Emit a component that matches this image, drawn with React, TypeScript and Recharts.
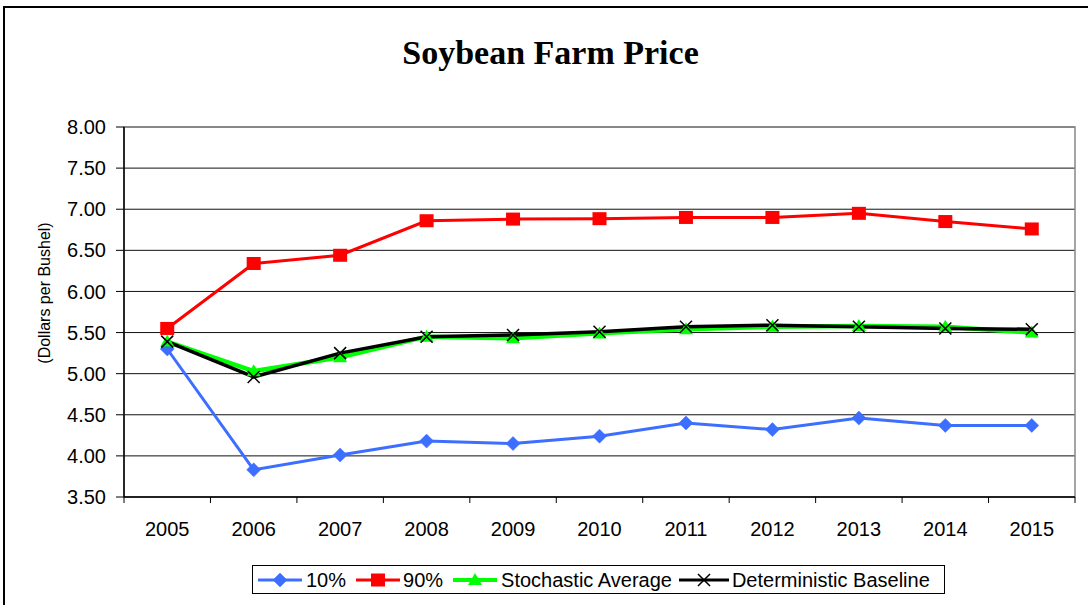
import React from "react";
import {
  LineChart,
  Line,
  XAxis,
  YAxis,
  CartesianGrid,
  ReferenceArea,
  Legend,
} from "recharts";

const years = [2005, 2006, 2007, 2008, 2009, 2010, 2011, 2012, 2013, 2014, 2015];
const p10 = [5.3, 3.83, 4.01, 4.18, 4.15, 4.24, 4.4, 4.32, 4.46, 4.37, 4.37];
const p90 = [5.55, 6.34, 6.44, 6.86, 6.88, 6.885, 6.9, 6.9, 6.95, 6.85, 6.76];
const stochastic = [5.39, 5.03, 5.2, 5.45, 5.43, 5.49, 5.54, 5.57, 5.58, 5.57, 5.5];
const deterministic = [5.39, 4.96, 5.25, 5.45, 5.47, 5.51, 5.57, 5.59, 5.57, 5.55, 5.54];
const yTicks = [3.5, 4.0, 4.5, 5.0, 5.5, 6.0, 6.5, 7.0, 7.5, 8.0];
const seriesNames = ["10%", "90%", "Stochastic Average", "Deterministic Baseline"];

const data = years.map((y, i) => ({
  year: y,
  p10: p10[i],
  p90: p90[i],
  stochastic: stochastic[i],
  deterministic: deterministic[i],
}));

const BLUE = "#3C6EFF";
const RED = "#FF0000";
const GREEN = "#00FF00";
const BLACK = "#000000";

const CHART_W = 1088;
const CHART_H = 605;
const X_AXIS_H = 30;
const MARGIN = { top: 127, right: 13, bottom: 108 - X_AXIS_H, left: 64 };
const Y_AXIS_W = 60;
const PLOT_W = CHART_W - MARGIN.left - MARGIN.right - Y_AXIS_W;
const HALF_BAND = PLOT_W / years.length / 2;

const FONT = "'Liberation Sans', Arial, sans-serif";

const Diamond = (cx: number, cy: number, key?: any) => (
  <path
    key={key}
    d={`M${cx},${cy - 7} L${cx + 7},${cy} L${cx},${cy + 7} L${cx - 7},${cy} Z`}
    fill={BLUE}
    stroke={BLUE}
    strokeWidth={0.5}
  />
);
const Square = (cx: number, cy: number, key?: any) => (
  <rect key={key} x={cx - 7} y={cy - 6.5} width={14} height={13} fill={RED} />
);
const Triangle = (cx: number, cy: number, key?: any) => (
  <path
    key={key}
    d={`M${cx},${cy - 7} L${cx + 7},${cy + 5} L${cx - 7},${cy + 5} Z`}
    fill={GREEN}
  />
);
const Cross = (cx: number, cy: number, key?: any) => (
  <path
    key={key}
    d={`M${cx - 6},${cy - 6} L${cx + 6},${cy + 6} M${cx - 6},${cy + 6} L${cx + 6},${cy - 6}`}
    stroke={BLACK}
    strokeWidth={1.5}
    fill="none"
  />
);

const makeDot = (fn: (cx: number, cy: number, key?: any) => React.ReactElement) => (props: any) => {
  const { cx, cy, index } = props;
  if (cx == null || cy == null) return <g key={`d${index}`} />;
  return <g key={`d${index}`}>{fn(cx, cy)}</g>;
};

const XTick = (props: any) => {
  const { x, y, payload, index } = props;
  const last = index === years.length - 1;
  return (
    <g>
      <text
        x={x}
        y={y + 39}
        textAnchor="middle"
        fontSize={20}
        fontFamily={FONT}
        fill="#000"
      >
        {payload.value}
      </text>
      <line x1={x - HALF_BAND} y1={y} x2={x - HALF_BAND} y2={y + 6} stroke="#000" strokeWidth={1} />
      {last && (
        <line x1={x + HALF_BAND} y1={y} x2={x + HALF_BAND} y2={y + 6} stroke="#000" strokeWidth={1} />
      )}
    </g>
  );
};

const legendIcons = [
  { color: BLUE, marker: Diamond, width: 3 },
  { color: RED, marker: Square, width: 3 },
  { color: GREEN, marker: Triangle, width: 4 },
  { color: BLACK, marker: Cross, width: 3 },
];

const LegendContent = () => {
  const gaps = [
    { iconW: 44, before: 6, after: 4 },
    { iconW: 44, before: 10, after: 3 },
    { iconW: 44, before: 10, after: 4 },
    { iconW: 50, before: 7, after: 3 },
  ];
  return (
    <div
      style={{
        width: 693,
        height: 29,
        border: "1px solid #000",
        boxSizing: "border-box",
        display: "flex",
        alignItems: "center",
        fontFamily: FONT,
        fontSize: 20,
        color: "#000",
        background: "#fff",
        whiteSpace: "nowrap",
      }}
    >
      {seriesNames.map((name, i) => {
        const ic = legendIcons[i];
        const g = gaps[i];
        return (
          <div key={name} style={{ display: "flex", alignItems: "center", marginLeft: i === 0 ? g.before - 1 : g.before }}>
            <svg width={g.iconW} height={18} style={{ display: "block" }}>
              <line x1={0} y1={9} x2={g.iconW} y2={9} stroke={ic.color} strokeWidth={ic.width} />
              {ic.marker(g.iconW / 2, 9)}
            </svg>
            <span style={{ marginLeft: g.after, lineHeight: "20px" }}>{name}</span>
          </div>
        );
      })}
    </div>
  );
};

export default function App() {
  return (
    <div
      style={{
        position: "absolute",
        left: 0,
        top: 0,
        width: CHART_W,
        height: CHART_H,
        overflow: "hidden",
        background: "#fff",
      }}
    >
      <div
        style={{
          position: "absolute",
          left: 3,
          top: 6,
          width: 1200,
          height: 700,
          borderTop: "2px solid #000",
          borderLeft: "2px solid #000",
        }}
      />
      <div
        style={{
          position: "absolute",
          left: 250,
          top: 36,
          width: 601,
          textAlign: "center",
          fontFamily: "'Liberation Serif', 'Times New Roman', serif",
          fontWeight: "bold",
          fontSize: 34,
          lineHeight: "34px",
          color: "#000",
        }}
      >
        Soybean Farm Price
      </div>
      <div
        style={{
          position: "absolute",
          left: 45,
          top: 293,
          transform: "translate(-50%, -50%) rotate(-90deg)",
          fontFamily: FONT,
          fontSize: 16,
          whiteSpace: "nowrap",
          color: "#000",
          zIndex: 2,
        }}
      >
        (Dollars per Bushel)
      </div>
      <div style={{ position: "absolute", left: 0, top: 0 }}>
        <LineChart width={CHART_W} height={CHART_H} data={data} margin={MARGIN}>
          <ReferenceArea
            x1={2004.5}
            x2={2015.5}
            y1={3.5}
            y2={8}
            fill="none"
            stroke="#888"
            strokeWidth={1.5}
            ifOverflow="visible"
          />
          <CartesianGrid horizontal={true} vertical={false} stroke="#111" strokeWidth={1} />
          <XAxis
            dataKey="year"
            type="number"
            domain={[2004.5, 2015.5]}
            ticks={years}
            allowDataOverflow
            interval={0}
            tickLine={false}
            tickSize={0}
            tickMargin={0}
            axisLine={{ stroke: "#000", strokeWidth: 1.5 }}
            tick={<XTick />}
            height={X_AXIS_H}
          />
          <YAxis
            type="number"
            domain={[3.5, 8]}
            ticks={yTicks}
            interval={0}
            width={Y_AXIS_W}
            tickSize={8}
            tickMargin={10}
            tickFormatter={(v: number) => v.toFixed(2)}
            tickLine={{ stroke: "#000" }}
            axisLine={{ stroke: "#000", strokeWidth: 1.5 }}
            tick={{ fontSize: 20, fontFamily: FONT, fill: "#000" }}
          />
          <Legend
            layout="horizontal"
            verticalAlign="middle"
            align="center"
            content={<LegendContent />}
            wrapperStyle={{ position: "absolute", left: 252, top: 565, width: 693, height: 29 }}
          />
          <Line
            dataKey="p10"
            name={seriesNames[0]}
            stroke={BLUE}
            strokeWidth={3}
            dot={makeDot(Diamond)}
            activeDot={false}
            isAnimationActive={false}
          />
          <Line
            dataKey="p90"
            name={seriesNames[1]}
            stroke={RED}
            strokeWidth={3}
            dot={makeDot(Square)}
            activeDot={false}
            isAnimationActive={false}
          />
          <Line
            dataKey="stochastic"
            name={seriesNames[2]}
            stroke={GREEN}
            strokeWidth={4.5}
            dot={makeDot(Triangle)}
            activeDot={false}
            isAnimationActive={false}
          />
          <Line
            dataKey="deterministic"
            name={seriesNames[3]}
            stroke={BLACK}
            strokeWidth={3.5}
            dot={makeDot(Cross)}
            activeDot={false}
            isAnimationActive={false}
          />
        </LineChart>
      </div>
    </div>
  );
}
